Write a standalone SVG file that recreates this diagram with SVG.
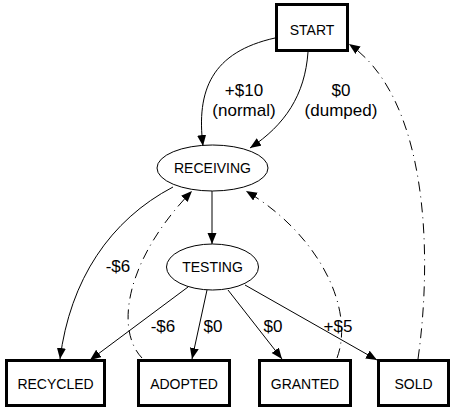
<svg xmlns="http://www.w3.org/2000/svg" width="455" height="413" viewBox="0 0 455 413">
<style>
  .box { fill: #fff; stroke: #000; stroke-width: 3; }
  .ell { fill: #fff; stroke: #000; stroke-width: 1; }
  .nl { font-family: "Liberation Sans", Arial, sans-serif; font-size: 14px; text-anchor: middle; fill: #000; }
  .el { font-family: "Liberation Sans", Arial, sans-serif; font-size: 17px; text-anchor: middle; fill: #000; }
  .e { fill: none; stroke: #000; stroke-width: 1; }
  .dd { stroke-dasharray: 10,5,1,5; }
</style>
<defs>
  <marker id="ah" markerUnits="userSpaceOnUse" markerWidth="12" markerHeight="10" refX="11" refY="4.5" orient="auto">
    <path d="M0,0 L11,4.5 L0,9 Z" fill="#000"/>
  </marker>
</defs>
<rect width="455" height="413" fill="#fff"/>
<g id="edges">
  <path class="e" d="M275,38 C212,52 196,90 203,146" marker-end="url(#ah)"/>
  <path class="e" d="M308,52 C305,95 285,125 250,148" marker-end="url(#ah)"/>
  <path class="e" d="M212,191 L212,244" marker-end="url(#ah)"/>
  <path class="e" d="M173,187 C110,220 70,280 60,359" marker-end="url(#ah)"/>
  <path class="e" d="M188,287 L90,360" marker-end="url(#ah)"/>
  <path class="e" d="M207,290 L192,359" marker-end="url(#ah)"/>
  <path class="e" d="M228,290 L282,359" marker-end="url(#ah)"/>
  <path class="e" d="M245,285 L377,360" marker-end="url(#ah)"/>
  <path class="e dd" d="M142,358 C115,330 125,260 192,191" marker-end="url(#ah)"/>
  <path class="e dd" d="M337,358 C355,310 320,235 246,191" marker-end="url(#ah)"/>
  <path class="e dd" d="M418,359 C432,260 430,100 349,44" marker-end="url(#ah)"/>
  <text class="el" x="244" y="96">+$10</text>
  <text class="el" x="244" y="116">(normal)</text>
  <text class="el" x="341" y="96">$0</text>
  <text class="el" x="341" y="116">(dumped)</text>
  <text class="el" x="118" y="272">-$6</text>
  <text class="el" x="163" y="332">-$6</text>
  <text class="el" x="213" y="332">$0</text>
  <text class="el" x="273" y="332">$0</text>
  <text class="el" x="338" y="332">+$5</text>
</g>
<g id="START"><rect class="box" x="276.5" y="4.5" width="71" height="46"/><text class="nl" x="312" y="35">START</text></g>
<g id="RECEIVING"><ellipse class="ell" cx="212.5" cy="168" rx="55.5" ry="23"/><text class="nl" x="212.5" y="173">RECEIVING</text></g>
<g id="TESTING"><ellipse class="ell" cx="212.5" cy="267" rx="46" ry="23"/><text class="nl" x="212.5" y="272">TESTING</text></g>
<g id="RECYCLED"><rect class="box" x="6.5" y="360.5" width="98" height="45"/><text class="nl" x="55.5" y="389">RECYCLED</text></g>
<g id="ADOPTED"><rect class="box" x="138.5" y="360.5" width="91" height="45"/><text class="nl" x="184" y="389">ADOPTED</text></g>
<g id="GRANTED"><rect class="box" x="259.5" y="360.5" width="91" height="45"/><text class="nl" x="305" y="389">GRANTED</text></g>
<g id="SOLD"><rect class="box" x="378.5" y="360.5" width="70" height="45"/><text class="nl" x="413.5" y="389">SOLD</text></g>
</svg>
